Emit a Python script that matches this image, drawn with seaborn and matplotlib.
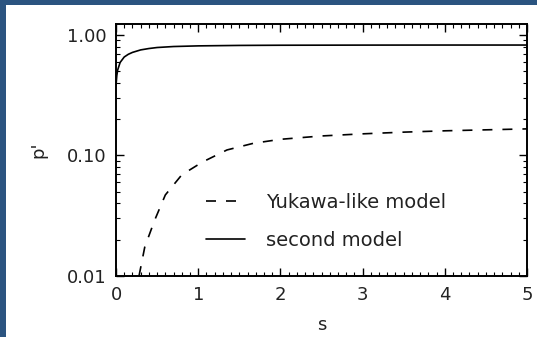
import numpy as np
import pandas as pd
import matplotlib
matplotlib.use("Agg")
import matplotlib.pyplot as plt
import seaborn as sns
from matplotlib.patches import Rectangle
from matplotlib.ticker import FixedLocator, MultipleLocator, NullFormatter

# valores
s_second = [0.0, 0.01, 0.02, 0.05, 0.1, 0.15, 0.2, 0.3, 0.4, 0.5, 0.7, 1.0, 1.5, 2.0, 3.0, 4.0, 5.0]
p_second = [0.38, 0.46, 0.51, 0.59, 0.655, 0.69, 0.715, 0.75, 0.77, 0.785, 0.80, 0.81, 0.817, 0.82, 0.822, 0.823, 0.823]

s_yukawa = [0.28, 0.35, 0.47, 0.6, 0.8, 1.05, 1.35, 1.67, 2.0, 2.5, 3.0, 3.5, 4.0, 4.5, 5.0]
p_yukawa = [0.01, 0.0174, 0.029, 0.047, 0.069, 0.088, 0.111, 0.126, 0.136, 0.145, 0.151, 0.156, 0.160, 0.163, 0.166]

labels = ["Yukawa-like model", "second model"]

sns.set_style("ticks")
plt.rcParams['font.family'] = ['DejaVu Sans']

fig = plt.figure(figsize=(5.37, 3.37), dpi=100)
fig.patch.set_facecolor('#2b5480')
fig.patches.append(Rectangle((6/537, 0), 1, 1 - 5/337, transform=fig.transFigure,
                             facecolor='white', edgecolor='none', zorder=-10))
ax = fig.add_axes([116/537, 1 - 276/337, (527 - 116)/537, (276 - 24)/337])
ax.set_zorder(5)

df_y = pd.DataFrame({'s': s_yukawa, 'p': p_yukawa})
df_s = pd.DataFrame({'s': s_second, 'p': p_second})
sns.lineplot(data=df_y, x='s', y='p', ax=ax, color='black', lw=1.2,
             label=labels[0], linestyle=(0, (6, 6)))
sns.lineplot(data=df_s, x='s', y='p', ax=ax, color='black', lw=1.2, label=labels[1])

ax.set_yscale('log')
ax.set_xlim(0, 5)
ax.set_ylim(0.01, 1.23)
ax.yaxis.set_major_locator(FixedLocator([0.01, 0.1, 1.0]))
ax.set_yticklabels(['0.01', '0.10', '1.00'])
ax.yaxis.set_minor_formatter(NullFormatter())
ax.xaxis.set_major_locator(MultipleLocator(1))
ax.xaxis.set_minor_locator(MultipleLocator(0.1))

for side in ['left', 'right', 'top', 'bottom']:
    ax.spines[side].set_visible(True)
    ax.spines[side].set_linewidth(1.4)
    ax.spines[side].set_color('black')
ax.tick_params(which='both', direction='in', top=True, right=True, colors='black',
               labelsize=13, labelcolor='#222222')
ax.tick_params(which='major', length=6, width=1.0, pad=7)
ax.tick_params(which='minor', length=3, width=0.8)

ax.set_xlabel('s', fontsize=13, color='#222222', labelpad=9)
ax.set_ylabel("p'", fontsize=13, color='#222222', labelpad=14)

leg = ax.legend(loc='upper left', bbox_to_anchor=(0.20, 0.36), frameon=False,
                fontsize=14, handlelength=2.0, handletextpad=1.1, labelspacing=0.95,
                borderaxespad=0)
for t in leg.get_texts():
    t.set_color('#222222')

fig.savefig('out.png', dpi=100, facecolor=fig.get_facecolor())
